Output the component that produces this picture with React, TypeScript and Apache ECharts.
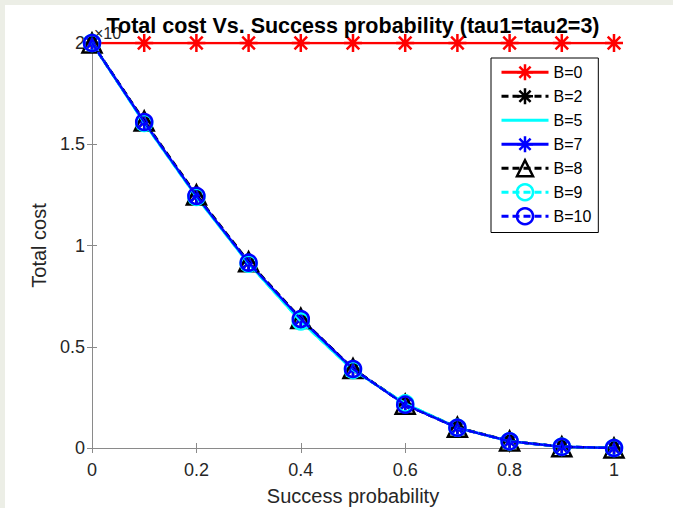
import React, { useEffect, useRef } from "react";
import * as echarts from "echarts";

const xValues = [0, 0.1, 0.2, 0.3, 0.4, 0.5, 0.6, 0.7, 0.8, 0.9, 1];
const b0 = [2, 2, 2, 2, 2, 2, 2, 2, 2, 2, 2];
const b2 = [2, 1.61, 1.245, 0.915, 0.637, 0.39, 0.214, 0.1, 0.033, 0.006, 0];
const b5 = [2, 1.605, 1.24, 0.91, 0.625, 0.385, 0.22, 0.1, 0.033, 0.006, 0];
const b7 = [2, 1.61, 1.245, 0.915, 0.637, 0.39, 0.214, 0.1, 0.033, 0.006, 0];
const b8 = [2, 1.615, 1.25, 0.92, 0.64, 0.392, 0.216, 0.102, 0.034, 0.006, 0];
const b9 = [2, 1.605, 1.24, 0.91, 0.625, 0.385, 0.22, 0.1, 0.033, 0.006, 0];
const b10 = [2, 1.61, 1.245, 0.915, 0.637, 0.39, 0.214, 0.1, 0.033, 0.006, 0];
const yTicks = [0, 0.5, 1, 1.5, 2];
const xTicks = [0, 0.2, 0.4, 0.6, 0.8, 1];

const ASTERISK = "path://M10,0L10,20M0,10L20,10M3,3L17,17M3,17L17,3";
const FONT = "'Liberation Sans', Arial, sans-serif";
const TEXT = "#262626";
const AXIS = "#8a8a8a";

function pairs(ys: number[]) {
  return xValues.map((x, i) => [x, ys[i]]);
}

export default function App() {
  const ref = useRef<HTMLDivElement>(null);
  useEffect(() => {
    if (!ref.current) return;
    const chart = echarts.init(ref.current, undefined, { renderer: "svg" });
    const mk = (
      name: string,
      ys: number[],
      color: string,
      dashed: boolean,
      symbol: string,
      symbolSize: number,
      z: number
    ) => {
      const noMarker = symbol === "none";
      return {
        name,
        type: "line",
        data: pairs(ys),
        z,
        symbol: noMarker ? "circle" : symbol,
        symbolSize: noMarker ? 0 : symbolSize,
        showSymbol: !noMarker,
        lineStyle: { color, width: 2.5, type: dashed ? [7, 4] : "solid" },
        itemStyle: {
          color: "rgba(0,0,0,0)",
          borderColor: noMarker ? "rgba(0,0,0,0)" : color,
          borderWidth: 2.5,
        },
        emphasis: { disabled: true },
      };
    };
    chart.setOption({
      animation: false,
      textStyle: { fontFamily: FONT },
      title: {
        text: "Total cost Vs. Success probability (tau1=tau2=3)",
        left: 353,
        top: 15,
        padding: 0,
        textAlign: "center",
        z: 20,
        textStyle: { fontSize: 21.5, fontWeight: "bold", color: "#000", fontFamily: FONT },
      },
      graphic: [
        {
          type: "text",
          left: 94,
          top: 25,
          z: 1,
          style: { text: "×10", fontSize: 16, fill: TEXT, fontFamily: FONT },
        },
      ],
      legend: {
        orient: "vertical",
        left: 491,
        top: 58,
        padding: [5, 7, 7, 9],
        itemWidth: 47,
        itemHeight: 20,
        itemGap: 5.5,
        backgroundColor: "#fff",
        borderColor: "#000",
        borderWidth: 1,
        borderRadius: 0,
        lineStyle: { width: 3 },
        itemStyle: { borderWidth: 2.5 },
        textStyle: { fontSize: 16, color: "#000", fontFamily: FONT },
        data: ["B=0", "B=2", "B=5", "B=7", "B=8", "B=9", "B=10"],
      },
      grid: {
        left: 92,
        top: 43,
        right: 59,
        bottom: 60,
        containLabel: false,
        outerBoundsMode: "none",
      },
      xAxis: [
        {
          type: "value",
          min: 0,
          max: 1,
          interval: 0.2,
          name: "Success probability",
          nameLocation: "middle",
          nameGap: 38,
          nameTextStyle: { fontSize: 20, lineHeight: 20, color: TEXT, fontFamily: FONT },
          axisLine: { lineStyle: { color: AXIS, width: 1 } },
          axisTick: { inside: true, length: 5, lineStyle: { color: AXIS } },
          axisLabel: {
            fontSize: 18,
            color: TEXT,
            margin: 13,
            formatter: (v: number) => (xTicks.includes(v) ? String(v) : ""),
          },
          splitLine: { show: false },
        },
        {
          type: "value",
          position: "top",
          min: 0,
          max: 1,
          interval: 0.2,
          axisLine: { lineStyle: { color: AXIS, width: 1 } },
          axisTick: { inside: true, length: 5, lineStyle: { color: AXIS } },
          axisLabel: { show: false },
          splitLine: { show: false },
        },
      ],
      yAxis: [
        {
          type: "value",
          min: 0,
          max: 2,
          interval: 0.5,
          name: "Total cost",
          nameLocation: "middle",
          nameGap: 42,
          nameTextStyle: { fontSize: 20, color: TEXT, fontFamily: FONT },
          axisLine: { show: true, lineStyle: { color: AXIS, width: 1 } },
          axisTick: { show: true, inside: true, length: 5, lineStyle: { color: AXIS } },
          axisLabel: {
            fontSize: 18,
            color: TEXT,
            margin: 7,
            formatter: (v: number) => (yTicks.includes(v) ? String(v) : ""),
          },
          splitLine: { show: false },
        },
        {
          type: "value",
          position: "right",
          min: 0,
          max: 2,
          interval: 0.5,
          axisLine: { show: true, lineStyle: { color: AXIS, width: 1 } },
          axisTick: { show: true, inside: true, length: 5, lineStyle: { color: AXIS } },
          axisLabel: { show: false },
          splitLine: { show: false },
        },
      ],
      series: [
        mk("B=0", b0, "#ff0000", false, ASTERISK, 18, 3),
        mk("B=2", b2, "#000000", true, ASTERISK, 17, 4),
        mk("B=5", b5, "#00ffff", false, "none", 0, 5),
        mk("B=7", b7, "#0000ff", false, ASTERISK, 17, 6),
        mk("B=8", b8, "#000000", true, "triangle", 19, 7),
        mk("B=9", b9, "#00ffff", true, "circle", 16, 8),
        mk("B=10", b10, "#0000ff", true, "circle", 16, 9),
      ],
    });
    return () => chart.dispose();
  }, []);
  return (
    <div
      style={{
        position: "fixed",
        left: 0,
        top: 0,
        width: 673,
        height: 508,
        background: "#eceee6",
      }}
    >
      <div
        style={{
          position: "absolute",
          left: 5,
          top: 5,
          width: 668,
          height: 503,
          background: "#ffffff",
        }}
      />
      <div ref={ref} style={{ position: "absolute", left: 0, top: 0, width: 673, height: 508 }} />
    </div>
  );
}
